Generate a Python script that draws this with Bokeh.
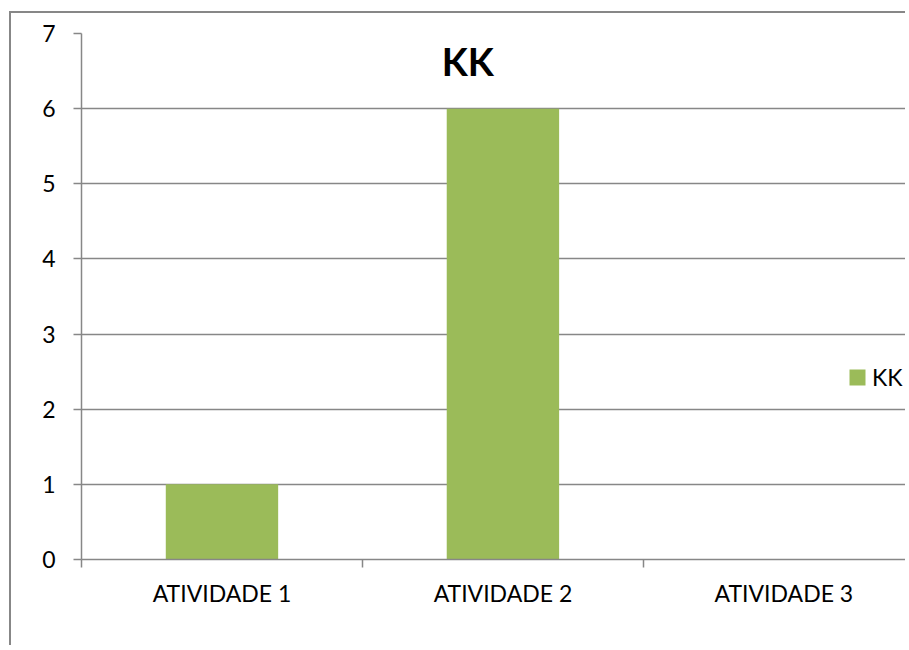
from bokeh.plotting import figure
from bokeh.models import (ColumnDataSource, Range1d, FixedTicker, Legend, LegendItem, Label)
from bokeh.embed import file_html
from bokeh.resources import INLINE

# ---- data ----
categories = ["ATIVIDADE 1", "ATIVIDADE 2", "ATIVIDADE 3"]
series_name = "KK"
values = [1, 6, 0]
y_ticks = [0, 1, 2, 3, 4, 5, 6, 7]
title_text = "KK"

FONT = "Lato"
GRAY = "#878787"
GREEN = "#9BBB59"

xpos = [i + 0.5 for i in range(len(categories))]
src = ColumnDataSource(dict(x=xpos, top=values, cat=categories))

p = figure(width=896, height=634, output_backend="svg", toolbar_location=None,
           x_range=Range1d(0, 2.94), y_range=Range1d(0, 7),
           min_border_left=70, min_border_right=0, min_border_top=20, min_border_bottom=88,
           margin=(11, 0, 0, 9),
           styles={"border-left": "2px solid #878787", "border-top": "2px solid #878787"})
p.outline_line_color = None
p.background_fill_color = "white"
p.border_fill_color = "white"

r = p.vbar(x="x", top="top", bottom=0, width=0.4, source=src,
           fill_color=GREEN, line_color=None)

# axes
xa = p.xaxis[0]
xa.ticker = FixedTicker(ticks=xpos, minor_ticks=list(range(len(categories) + 1)))
xa.major_label_overrides = {x: c for x, c in zip(xpos, categories)}
xa.major_tick_out = 0
xa.major_tick_in = 0
xa.minor_tick_out = 8
xa.minor_tick_in = 0
xa.minor_tick_line_color = GRAY
xa.minor_tick_line_width = 1.5
xa.axis_line_color = GRAY
xa.axis_line_width = 1.5
xa.major_label_text_font = FONT
xa.major_label_text_font_size = "23px"
xa.major_label_text_color = "black"
xa.major_label_standoff = 11

ya = p.yaxis[0]
ya.ticker = FixedTicker(ticks=y_ticks, minor_ticks=[])
ya.major_tick_out = 8
ya.major_tick_in = 0
ya.major_tick_line_color = GRAY
ya.major_tick_line_width = 1.5
ya.minor_tick_line_color = None
ya.axis_line_color = GRAY
ya.axis_line_width = 1.5
ya.major_label_text_font = FONT
ya.major_label_text_font_size = "23px"
ya.major_label_text_color = "black"
ya.major_label_standoff = 18

p.xgrid.visible = False
p.ygrid.ticker = FixedTicker(ticks=y_ticks)
p.ygrid.grid_line_color = GRAY
p.ygrid.grid_line_width = 1.5

# title inside plot area
p.add_layout(Label(x=1.375, y=6.63, text=title_text, text_font=FONT,
                   text_font_size="38px", text_font_style="bold", text_color="black",
                   text_align="center", text_baseline="middle"))

# legend
legend = Legend(items=[LegendItem(label=series_name, renderers=[r])],
                location=(766, 168), glyph_width=20, glyph_height=20,
                label_standoff=5, label_text_font=FONT, label_text_font_size="23px",
                label_text_color="black", padding=0, margin=0, spacing=0,
                border_line_color=None, background_fill_alpha=0)
p.add_layout(legend)

open("out.html", "w").write(file_html(p, INLINE))
